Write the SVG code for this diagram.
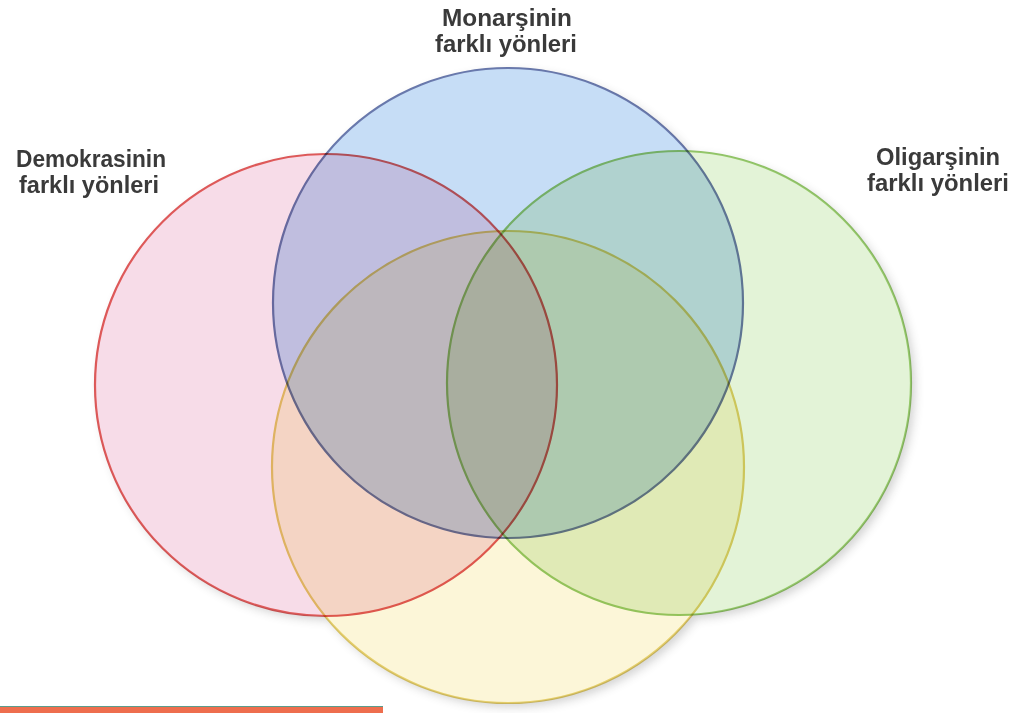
<svg xmlns="http://www.w3.org/2000/svg" width="1018" height="713" viewBox="0 0 1018 713">
  <defs>
    <style>
      .lbl { font-family: "Liberation Sans", Arial, sans-serif; font-weight: bold; font-size: 24px; fill: #3a3a3a; text-anchor: middle; }
      .set { mix-blend-mode: multiply; stroke-width: 2.2; }
      .base { fill: #ffffff; }
    </style>
    <filter id="shadow" x="-20%" y="-20%" width="140%" height="140%">
      <feGaussianBlur stdDeviation="5"/>
    </filter>
  </defs>
  <rect x="0" y="0" width="1018" height="713" fill="#ffffff"/>
  <g id="shadows" fill="#606060" opacity="0.28" filter="url(#shadow)" transform="translate(4,4)">
    <circle cx="326" cy="385" r="231"/>
    <circle cx="508" cy="303" r="235"/>
    <circle cx="679" cy="383" r="232"/>
    <circle cx="508" cy="467" r="236"/>
  </g>
  <g id="base">
    <circle class="base" cx="326" cy="385" r="231"/>
    <circle class="base" cx="508" cy="303" r="235"/>
    <circle class="base" cx="679" cy="383" r="232"/>
    <circle class="base" cx="508" cy="467" r="236"/>
  </g>
  <g id="demokrasi">
    <circle class="set" cx="326" cy="385" r="231" fill="#f7dce8" stroke="#e05a5a"/>
    <text class="lbl" x="91" y="167" textLength="150" lengthAdjust="spacingAndGlyphs">Demokrasinin</text>
    <text class="lbl" x="89" y="193" textLength="140" lengthAdjust="spacingAndGlyphs">farklı yönleri</text>
  </g>
  <g id="monarsi">
    <circle class="set" cx="508" cy="303" r="235" fill="#c6ddf6" stroke="#6a7aae"/>
    <text class="lbl" x="507" y="26" textLength="130" lengthAdjust="spacingAndGlyphs">Monarşinin</text>
    <text class="lbl" x="506" y="52" textLength="142" lengthAdjust="spacingAndGlyphs">farklı yönleri</text>
  </g>
  <g id="oligarsi">
    <circle class="set" cx="679" cy="383" r="232" fill="#e3f3d7" stroke="#95c96a"/>
    <text class="lbl" x="938" y="165" textLength="124" lengthAdjust="spacingAndGlyphs">Oligarşinin</text>
    <text class="lbl" x="938" y="191" textLength="142" lengthAdjust="spacingAndGlyphs">farklı yönleri</text>
  </g>
  <g id="dordunculuk">
    <circle class="set" cx="508" cy="467" r="236" fill="#fcf6d8" stroke="#e6cf6a"/>
  </g>
  <g id="connectors"/>
  <g id="bar">
    <rect x="0" y="706.5" width="383" height="8" fill="#ee6e4e"/>
    <line x1="0" y1="706.5" x2="383" y2="706.5" stroke="#5a9c8c" stroke-width="1"/>
  </g>
</svg>
